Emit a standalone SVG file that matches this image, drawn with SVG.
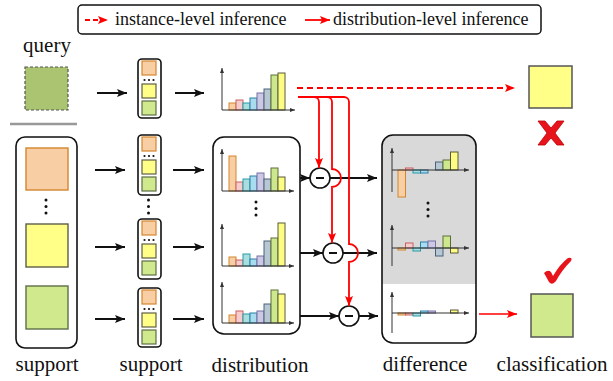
<svg xmlns="http://www.w3.org/2000/svg" width="613" height="381" viewBox="0 0 613 381" font-family="'Liberation Serif', serif">
<style>
text{font-family:'Liberation Serif','Times New Roman',serif;fill:#111}
.lbl{font-size:21px;text-anchor:middle}
.leg{font-size:18px}
.box{fill:#fff;stroke:#111;stroke-width:1.6}
.or{fill:#f8cfa5;stroke:#d4862e;stroke-width:1.2}
.ye{fill:#ffff88;stroke:#5e5e48;stroke-width:1.2}
.gr{fill:#cfe98c;stroke:#5e6e48;stroke-width:1.2}
.big{stroke-width:1.4}
.b1{fill:#f8cfa5;stroke:#d4862e}
.b2{fill:#f6cccc;stroke:#c96060}
.b3{fill:#a8dede;stroke:#2a9aa8}
.b4{fill:#a9dcef;stroke:#2b7fa8}
.b5{fill:#cdc9e4;stroke:#7771a7}
.b6{fill:#b7c7d4;stroke:#4a6278}
.b7{fill:#cde88c;stroke:#5b6e39}
.b8{fill:#fdfd84;stroke:#5a5a3a}
.bars rect{stroke-width:1}
.ax{stroke:#333;stroke-width:1;fill:none;marker-end:url(#ah)}
.arr{stroke:#111;stroke-width:2;fill:none;marker-end:url(#bk)}
.red{stroke:#f00;stroke-width:1.8;fill:none;marker-end:url(#rd)}
.dot{fill:#111}
</style>
<defs>
<marker id="bk" markerUnits="userSpaceOnUse" markerWidth="11" markerHeight="9" refX="10" refY="4" orient="auto"><path d="M0,0 L10,4 L0,8 L2,4 z" fill="#111"/></marker>
<marker id="rd" markerUnits="userSpaceOnUse" markerWidth="11" markerHeight="9" refX="10" refY="4" orient="auto"><path d="M0,0 L10,4 L0,8 L2,4 z" fill="#f00"/></marker>
<marker id="ah" markerUnits="userSpaceOnUse" markerWidth="6" markerHeight="5" refX="5" refY="2" orient="auto"><path d="M0,0 L5,2 L0,4 z" fill="#333"/></marker>
</defs>

<g id="legend">
<rect x="78" y="5" width="463" height="29" rx="4" fill="#fff" stroke="#111" stroke-width="1.5"/>
<line x1="85" y1="20" x2="108" y2="20" stroke="#f00" stroke-width="1.8" stroke-dasharray="5 3" marker-end="url(#rd)"/>
<text class="leg" x="115" y="25">instance-level inference</text>
<line x1="305" y1="20" x2="330" y2="20" class="red"/>
<text class="leg" x="333" y="25">distribution-level inference</text>
</g>

<g id="query">
<text class="lbl" x="47" y="52">query</text>
<rect x="25" y="67" width="43" height="43" fill="#aac472" stroke="#555" stroke-width="1.2" stroke-dasharray="3 2"/>
<line x1="10" y1="124" x2="77" y2="124" stroke="#999" stroke-width="2.5"/>
</g>

<g id="query-feature">
<rect class="box" x="138" y="59" width="23" height="59" rx="4"/>
<rect class="or" x="142" y="61" width="14" height="14"/>
<circle class="dot" cx="144.5" cy="80" r="1.1"/><circle class="dot" cx="149" cy="80" r="1.1"/><circle class="dot" cx="153.5" cy="80" r="1.1"/>
<rect class="ye" x="142" y="84" width="14" height="14"/>
<rect class="gr" x="142" y="101" width="14" height="14"/>
</g>

<g id="query-hist">
<g class="bars">
<rect class="b1" x="229" y="103" width="7" height="7"/>
<rect class="b2" x="236" y="100" width="7" height="10"/>
<rect class="b3" x="243" y="103" width="7" height="7"/>
<rect class="b4" x="250" y="98" width="7" height="12"/>
<rect class="b5" x="257" y="93" width="7" height="17"/>
<rect class="b6" x="264" y="89" width="7" height="21"/>
<rect class="b7" x="271" y="75" width="7" height="35"/>
<rect class="b8" x="278" y="73" width="7" height="37"/>
</g>
<path class="ax" d="M222,110 V68"/><path class="ax" d="M222,110 H295"/>
</g>

<g id="support">
<rect class="box" x="16" y="137" width="61" height="211" rx="9"/>
<rect class="or big" x="26" y="148" width="42" height="42"/>
<circle class="dot" cx="46" cy="200" r="1.5"/><circle class="dot" cx="46" cy="206.5" r="1.5"/><circle class="dot" cx="46" cy="213" r="1.5"/>
<rect class="ye big" x="26" y="224" width="42" height="43"/>
<rect class="gr big" x="26" y="286" width="42" height="43"/>
<text class="lbl" x="47" y="371">support</text>
</g>

<g id="support-feature-1">
<rect class="box" x="138" y="135" width="23" height="60" rx="4"/>
<rect class="or" x="142" y="137" width="14" height="14"/>
<circle class="dot" cx="144.5" cy="156" r="1.1"/><circle class="dot" cx="149" cy="156" r="1.1"/><circle class="dot" cx="153.5" cy="156" r="1.1"/>
<rect class="ye" x="142" y="160" width="14" height="14"/>
<rect class="gr" x="142" y="177" width="14" height="14"/>
</g>
<g id="support-feature-dots">
<circle class="dot" cx="148.5" cy="200" r="1.5"/><circle class="dot" cx="148.5" cy="206.5" r="1.5"/><circle class="dot" cx="148.5" cy="213" r="1.5"/>
</g>
<g id="support-feature-2">
<rect class="box" x="138" y="219" width="23" height="60" rx="4"/>
<rect class="or" x="142" y="221" width="14" height="14"/>
<circle class="dot" cx="144.5" cy="240" r="1.1"/><circle class="dot" cx="149" cy="240" r="1.1"/><circle class="dot" cx="153.5" cy="240" r="1.1"/>
<rect class="ye" x="142" y="244" width="14" height="14"/>
<rect class="gr" x="142" y="261" width="14" height="14"/>
</g>
<g id="support-feature-3">
<rect class="box" x="138" y="288" width="23" height="59" rx="4"/>
<rect class="or" x="142" y="290" width="14" height="14"/>
<circle class="dot" cx="144.5" cy="309" r="1.1"/><circle class="dot" cx="149" cy="309" r="1.1"/><circle class="dot" cx="153.5" cy="309" r="1.1"/>
<rect class="ye" x="142" y="313" width="14" height="14"/>
<rect class="gr" x="142" y="330" width="14" height="14"/>
<text class="lbl" x="151" y="371">support</text>
</g>

<g id="distribution">
<rect class="box" x="213" y="137" width="87" height="197" rx="11"/>
<g class="bars">
<rect class="b1" x="229" y="156" width="7" height="35"/>
<rect class="b2" x="236" y="182" width="7" height="9"/>
<rect class="b3" x="243" y="179" width="7" height="12"/>
<rect class="b4" x="250" y="176" width="7" height="15"/>
<rect class="b5" x="257" y="173" width="7" height="18"/>
<rect class="b6" x="264" y="179" width="7" height="12"/>
<rect class="b7" x="271" y="168" width="7" height="23"/>
<rect class="b8" x="278" y="177" width="7" height="14"/>
</g>
<path class="ax" d="M222,191 V149"/><path class="ax" d="M222,191 H294"/>
<circle class="dot" cx="256" cy="202" r="1.5"/><circle class="dot" cx="256" cy="208.5" r="1.5"/><circle class="dot" cx="256" cy="215" r="1.5"/>
<g class="bars">
<rect class="b1" x="229" y="257" width="7" height="9"/>
<rect class="b2" x="236" y="260" width="7" height="6"/>
<rect class="b3" x="243" y="254" width="7" height="12"/>
<rect class="b4" x="250" y="259" width="7" height="7"/>
<rect class="b5" x="257" y="256" width="7" height="10"/>
<rect class="b6" x="264" y="241" width="7" height="25"/>
<rect class="b7" x="271" y="238" width="7" height="28"/>
<rect class="b8" x="278" y="223" width="7" height="43"/>
</g>
<path class="ax" d="M222,266 V224"/><path class="ax" d="M222,266 H294"/>
<g class="bars">
<rect class="b1" x="229" y="315" width="7" height="8"/>
<rect class="b2" x="236" y="311" width="7" height="12"/>
<rect class="b3" x="243" y="314" width="7" height="9"/>
<rect class="b4" x="250" y="313" width="7" height="10"/>
<rect class="b5" x="257" y="311" width="7" height="12"/>
<rect class="b6" x="264" y="304" width="7" height="19"/>
<rect class="b7" x="271" y="290" width="7" height="33"/>
<rect class="b8" x="278" y="294" width="7" height="29"/>
</g>
<path class="ax" d="M222,323 V282"/><path class="ax" d="M222,323 H294"/>
<text class="lbl" x="260" y="372">distribution</text>
</g>

<g id="minus-1"><circle cx="320" cy="178" r="10" fill="#fff" stroke="#111" stroke-width="1.6"/><line x1="316" y1="178" x2="324" y2="178" stroke="#111" stroke-width="2"/></g>
<g id="minus-2"><circle cx="333" cy="253" r="10" fill="#fff" stroke="#111" stroke-width="1.6"/><line x1="329" y1="253" x2="337" y2="253" stroke="#111" stroke-width="2"/></g>
<g id="minus-3"><circle cx="349" cy="316" r="10" fill="#fff" stroke="#111" stroke-width="1.6"/><line x1="345" y1="316" x2="353" y2="316" stroke="#111" stroke-width="2"/></g>

<g id="difference">
<rect x="382" y="135" width="94" height="208" rx="11" fill="#fff"/>
<path d="M382,284 V146 A11 11 0 0 1 393,135 H465 A11 11 0 0 1 476,146 V284 Z" fill="#d9d9d9"/>
<rect x="382" y="135" width="94" height="208" rx="11" fill="none" stroke="#111" stroke-width="1.6"/>
<g class="bars">
<rect class="b1" x="398" y="170" width="7.5" height="27"/>
<rect class="b2" x="405.5" y="168" width="7.5" height="2"/>
<rect class="b3" x="413" y="170" width="7.5" height="3"/>
<rect class="b4" x="420.5" y="170" width="7.5" height="3"/>
<rect class="b6" x="435.5" y="162" width="7.5" height="8"/>
<rect class="b7" x="443" y="160" width="7.5" height="10"/>
<rect class="b8" x="450.5" y="152" width="7.5" height="18"/>
</g>
<path class="ax" d="M392,192 V148"/><path class="ax" d="M392,170 H469"/>
<circle class="dot" cx="428" cy="203" r="1.5"/><circle class="dot" cx="428" cy="209.5" r="1.5"/><circle class="dot" cx="428" cy="216" r="1.5"/>
<g class="bars">
<rect class="b1" x="398" y="248" width="7.5" height="2"/>
<rect class="b2" x="405.5" y="243" width="7.5" height="5"/>
<rect class="b3" x="413" y="248" width="7.5" height="3"/>
<rect class="b4" x="420.5" y="242" width="7.5" height="6"/>
<rect class="b5" x="428" y="241" width="7.5" height="7"/>
<rect class="b6" x="435.5" y="248" width="7.5" height="8"/>
<rect class="b7" x="443" y="236" width="7.5" height="12"/>
<rect class="b8" x="450.5" y="248" width="7.5" height="5"/>
</g>
<path class="ax" d="M392,266 V225"/><path class="ax" d="M392,248 H469"/>
<g class="bars">
<rect class="b1" x="398" y="313" width="7.5" height="2"/>
<rect class="b2" x="405.5" y="313" width="7.5" height="2"/>
<rect class="b3" x="413" y="313" width="7.5" height="3"/>
<rect class="b4" x="420.5" y="311" width="7.5" height="2"/>
<rect class="b5" x="428" y="311" width="7.5" height="2"/>
<rect class="b8" x="450.5" y="310" width="7.5" height="3"/>
</g>
<path class="ax" d="M392,333 V292"/><path class="ax" d="M392,313 H469"/>
<text class="lbl" x="425" y="371">difference</text>
</g>

<g id="result-wrong">
<rect x="529" y="66" width="43" height="42" fill="#ffff88" stroke="#555" stroke-width="1.5"/>
<polygon points="538,121 545,121 551,128 557,121 564,121 555,133 564,145 557,145 551,138 545,145 538,145 547,133" fill="#e8141b" stroke="#b00" stroke-width="0.8"/>
</g>

<g id="classification">
<path d="M544,273 Q548,269 551,272 L553,276 Q560,264 568,258 Q573,257 571,261 Q562,270 556,281 Q552,286 549,282 Z" fill="#e8141b"/>
<rect x="531" y="294" width="42" height="43" fill="#cfe98c" stroke="#555" stroke-width="1.5"/>
<text class="lbl" x="552" y="371">classification</text>
</g>

<g id="connectors">
<line class="arr" x1="97" y1="93" x2="127" y2="93"/>
<line class="arr" x1="175" y1="93" x2="204" y2="93"/>
<line class="arr" x1="95" y1="170" x2="125" y2="170"/>
<line class="arr" x1="95" y1="247" x2="125" y2="247"/>
<line class="arr" x1="95" y1="319" x2="125" y2="319"/>
<line class="arr" x1="173" y1="170" x2="204" y2="170"/>
<line class="arr" x1="173" y1="247" x2="204" y2="247"/>
<line class="arr" x1="173" y1="319" x2="204" y2="319"/>
<line class="arr" x1="300" y1="178" x2="310" y2="178"/>
<line class="arr" x1="330" y1="178" x2="377" y2="178"/>
<line class="arr" x1="300" y1="253" x2="323" y2="253"/>
<line class="arr" x1="343" y1="253" x2="377" y2="253"/>
<line class="arr" x1="300" y1="316" x2="339" y2="316"/>
<line class="arr" x1="359" y1="316" x2="378" y2="316"/>
<line x1="297" y1="88" x2="515" y2="88" stroke="#f00" stroke-width="1.8" stroke-dasharray="6 4" marker-end="url(#rd)"/>
<path class="red" d="M298,97 H314 A5 5 0 0 1 319,102 V168"/>
<path class="red" d="M298,97 H327 A5 5 0 0 1 332,102 V169 A9 9 0 0 1 332,187 V243"/>
<path class="red" d="M298,97 H344 A5 5 0 0 1 349,102 V244 A9 9 0 0 1 349,262 V306"/>
<line class="red" x1="479" y1="314" x2="517" y2="314" style="stroke-width:1.5"/>
</g>
</svg>
